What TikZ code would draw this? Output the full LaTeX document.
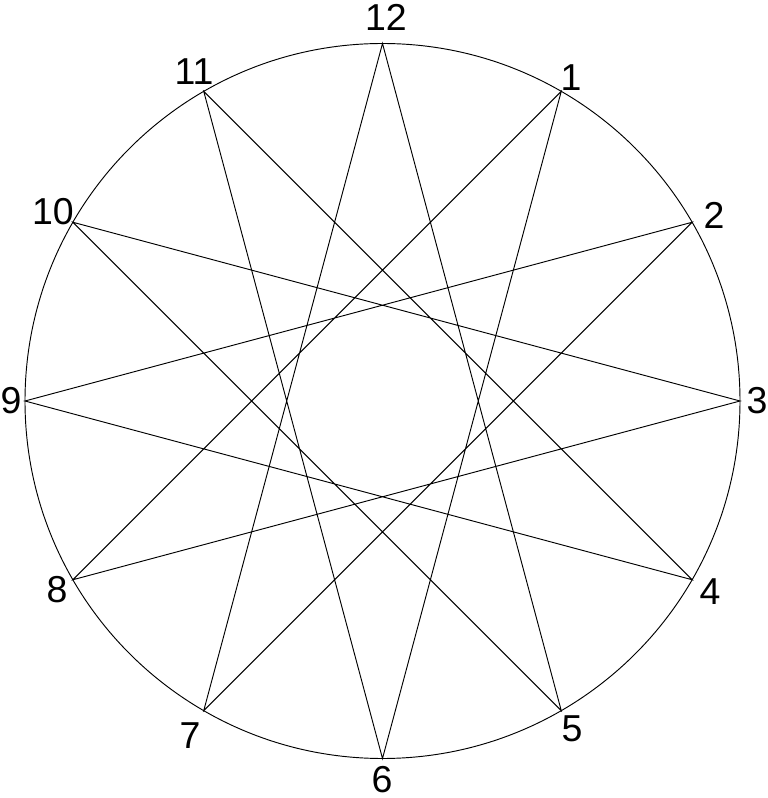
\documentclass[tikz,border=0pt]{standalone}
\usepackage{fontspec}
\setmainfont{Liberation Sans}
\usetikzlibrary{calc}
\begin{document}
\begin{tikzpicture}[x=0.03cm,y=0.03cm,
        num/.style={inner sep=0pt,font=\fontsize{32}{38}\selectfont},
        edge/.style={line width=0.8pt}]
                \useasboundingbox (0,0) rectangle (768,798);

                % 円の作成
                \coordinate (c) at (382.5,397);
                \draw[edge] (c) circle (357.5);

                % 円周上の点
                \foreach \k in {1,...,12}
                        \coordinate (p\k) at ($(c)+({90-30*\k}:357.5)$);

                % 数字のラベル
                \node[num] (l1) at (571,720) {1};
                \node[num] (l2) at (714,583) {2};
                \node[num] (l3) at (757,397) {3};
                \node[num] (l4) at (710,206) {4};
                \node[num] (l5) at (572,69) {5};
                \node[num] (l6) at (382,18) {6};
                \node[num] (l7) at (190,62) {7};
                \node[num] (l8) at (57,208) {8};
                \node[num] (l9) at (11,397) {9};
                \node[num] (l10) at (53,586) {10};
                \node[num] (l11) at (194,726) {11};
                \node[num] (l12) at (386,781) {12};

                % 星形(5つ飛ばし)
                \draw[edge] (p12) -- (p5) -- (p10) -- (p3) -- (p8) -- (p1) -- (p6)
                        -- (p11) -- (p4) -- (p9) -- (p2) -- (p7) -- cycle;
\end{tikzpicture}
\end{document}
